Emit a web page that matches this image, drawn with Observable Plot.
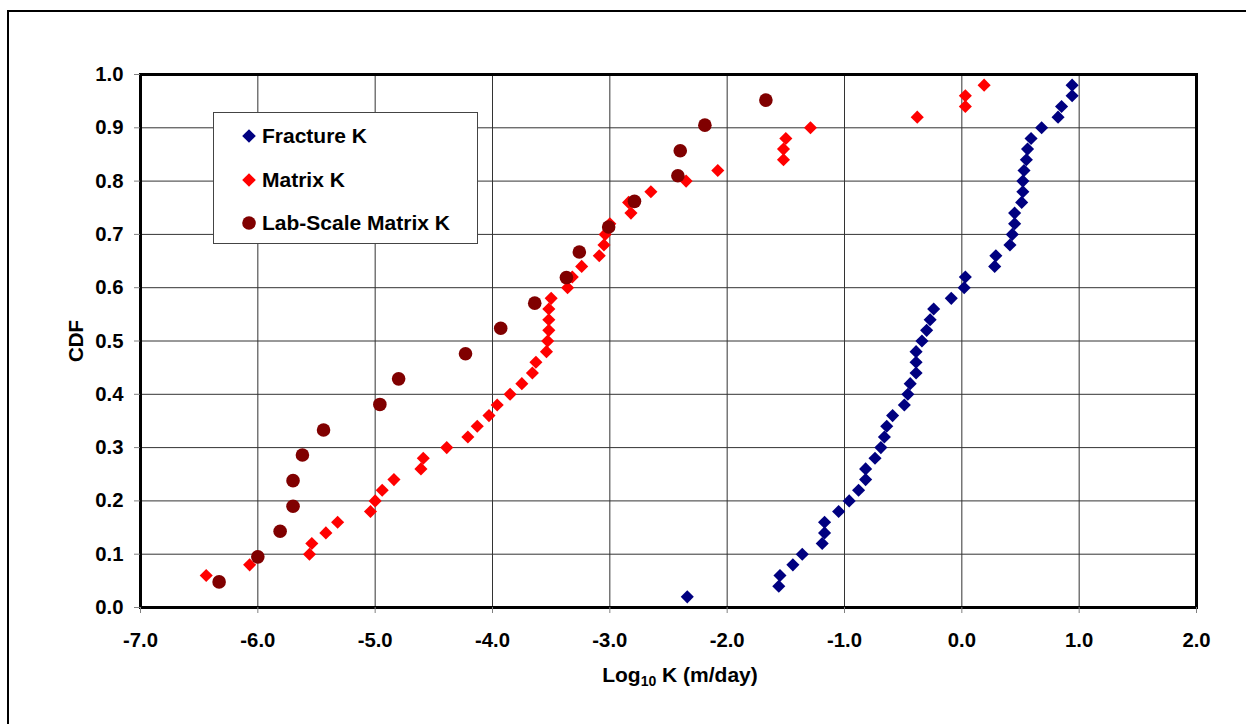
<!DOCTYPE html>
<html>
<head>
<meta charset="utf-8">
<script src="https://cdn.jsdelivr.net/npm/d3@7"></script>
<script src="https://cdn.jsdelivr.net/npm/@observablehq/plot@0.6"></script>
<style>
  html, body { margin: 0; padding: 0; background: white; }
  #wrap { position: relative; width: 1246px; height: 724px; overflow: hidden; font-family: "Liberation Sans", Arial, sans-serif; font-weight: bold; color: black; }
  #chart svg { position: absolute; left: 0; top: 0; }
  #outer { position: absolute; left: 7px; top: 10px; width: 1300px; height: 800px; border-left: 2px solid black; border-top: 2px solid black; box-sizing: border-box; pointer-events: none; }
  #legend { position: absolute; left: 213px; top: 112px; width: 265px; height: 132px; box-sizing: border-box; border: 1px solid #444; background: white; }
  #legend .row { position: absolute; left: 0; height: 22px; line-height: 22px; font-size: 21px; white-space: nowrap; }
  #legend .row svg { position: absolute; left: 27px; top: 3px; }
  #legend .row span { position: absolute; left: 48px; top: 0; }
  #xtitle { position: absolute; left: 680px; top: 664px; transform: translateX(-50%); font-size: 21px; line-height: 21px; white-space: nowrap; }
  #xtitle sub { font-size: 14px; vertical-align: -4px; line-height: 0; }
  #ytitle { position: absolute; left: 75px; top: 341px; transform: translate(-50%, -50%) rotate(-90deg); font-size: 20.5px; line-height: 21px; white-space: nowrap; }
</style>
</head>
<body>
<div id="wrap">
  <div id="chart"></div>
  <div id="outer"></div>
  <div id="legend"></div>
  <div id="xtitle">Log<sub>10</sub> K (m/day)</div>
  <div id="ytitle">CDF</div>
</div>
<script>
// ---- Data ----
const seriesNames = ["Fracture K", "Matrix K", "Lab-Scale Matrix K"];

const fractureLogK = [-2.34,-1.56,-1.55,-1.44,-1.36,-1.19,-1.17,-1.17,-1.05,-0.96,-0.88,-0.82,-0.82,-0.74,-0.69,-0.66,-0.64,-0.59,-0.49,-0.46,-0.44,-0.39,-0.39,-0.39,-0.34,-0.30,-0.27,-0.24,-0.09,0.02,0.03,0.28,0.29,0.41,0.43,0.45,0.45,0.51,0.52,0.52,0.53,0.55,0.56,0.59,0.68,0.82,0.85,0.94,0.94];
const fractureCDF = [0.02,0.04,0.06,0.08,0.10,0.12,0.14,0.16,0.18,0.20,0.22,0.24,0.26,0.28,0.30,0.32,0.34,0.36,0.38,0.40,0.42,0.44,0.46,0.48,0.50,0.52,0.54,0.56,0.58,0.60,0.62,0.64,0.66,0.68,0.70,0.72,0.74,0.76,0.78,0.80,0.82,0.84,0.86,0.88,0.90,0.92,0.94,0.96,0.98];

const matrixLogK = [-6.44,-6.07,-5.56,-5.54,-5.42,-5.32,-5.04,-5.00,-4.94,-4.84,-4.61,-4.59,-4.39,-4.21,-4.13,-4.03,-3.96,-3.85,-3.75,-3.66,-3.63,-3.54,-3.53,-3.52,-3.52,-3.52,-3.50,-3.36,-3.32,-3.24,-3.09,-3.05,-3.04,-3.00,-2.82,-2.84,-2.65,-2.35,-2.08,-1.52,-1.52,-1.50,-1.29,-0.38,0.03,0.03,0.19];
const matrixCDF = [0.06,0.08,0.10,0.12,0.14,0.16,0.18,0.20,0.22,0.24,0.26,0.28,0.30,0.32,0.34,0.36,0.38,0.40,0.42,0.44,0.46,0.48,0.50,0.52,0.54,0.56,0.58,0.60,0.62,0.64,0.66,0.68,0.70,0.72,0.74,0.76,0.78,0.80,0.82,0.84,0.86,0.88,0.90,0.92,0.94,0.96,0.98];

const labLogK = [-6.33,-6.00,-5.81,-5.70,-5.70,-5.62,-5.44,-4.96,-4.80,-4.23,-3.93,-3.64,-3.37,-3.26,-3.01,-2.79,-2.42,-2.40,-2.19,-1.67];
const labCDF = [0.048,0.095,0.143,0.190,0.238,0.286,0.333,0.381,0.429,0.476,0.524,0.571,0.619,0.667,0.714,0.762,0.810,0.857,0.905,0.952];

const xTicks = [-7,-6,-5,-4,-3,-2,-1,0,1,2];
const yTicks = [0,0.1,0.2,0.3,0.4,0.5,0.6,0.7,0.8,0.9,1.0];

const colors = ["#000080", "#FF0000", "#800000"];
const symbols = ["diamond2", "diamond2", "circle"];

// ---- Build tables ----
const fracture = fractureLogK.map((k, i) => ({k, cdf: fractureCDF[i]}));
const matrix = matrixLogK.map((k, i) => ({k, cdf: matrixCDF[i]}));
const lab = labLogK.map((k, i) => ({k, cdf: labCDF[i]}));

const fmt = d => d.toFixed(1);

const chart = Plot.plot({
  width: 1246,
  height: 724,
  marginLeft: 140,
  marginRight: 50,
  marginTop: 74,
  marginBottom: 117,
  x: {domain: [-7, 2]},
  y: {domain: [0, 1]},
  style: {
    fontFamily: '"Liberation Sans", Arial, sans-serif',
    fontSize: "20.3px",
    fontWeight: "bold",
    color: "black",
    background: "transparent",
    overflow: "visible"
  },
  marks: [
    Plot.gridX({ticks: xTicks, stroke: "#333", strokeOpacity: 1, strokeWidth: 1}),
    Plot.gridY({ticks: yTicks, stroke: "#333", strokeOpacity: 1, strokeWidth: 1}),
    Plot.frame({stroke: "black", strokeWidth: 3}),
    Plot.axisX({ticks: xTicks, tickSize: 6, tickPadding: 19, stroke: "#808080", fill: "black", tickFormat: fmt, label: null}),
    Plot.axisY({ticks: yTicks, tickSize: 6, tickPadding: 11, stroke: "#808080", fill: "black", tickFormat: fmt, label: null}),
    Plot.dot(fracture, {x: "k", y: "cdf", symbol: symbols[0], r: 5.9, fill: colors[0], stroke: "none"}),
    Plot.dot(matrix, {x: "k", y: "cdf", symbol: symbols[1], r: 5.9, fill: colors[1], stroke: "none"}),
    Plot.dot(lab, {x: "k", y: "cdf", symbol: symbols[2], r: 6.8, fill: colors[2], stroke: "none"})
  ]
});
document.getElementById("chart").appendChild(chart);

// ---- Legend ----
const legend = document.getElementById("legend");
const rowTops = [12, 56, 99];
seriesNames.forEach((name, i) => {
  const row = document.createElement("div");
  row.className = "row";
  row.style.top = rowTops[i] + "px";
  const sym = i === 2
    ? `<circle cx="8" cy="8" r="6.8" fill="${colors[i]}"/>`
    : `<path d="M8,1.2L14.8,8L8,14.8L1.2,8Z" fill="${colors[i]}"/>`;
  row.innerHTML = `<svg width="16" height="16" viewBox="0 0 16 16">${sym}</svg><span>${name}</span>`;
  legend.appendChild(row);
});
</script>
</body>
</html>
